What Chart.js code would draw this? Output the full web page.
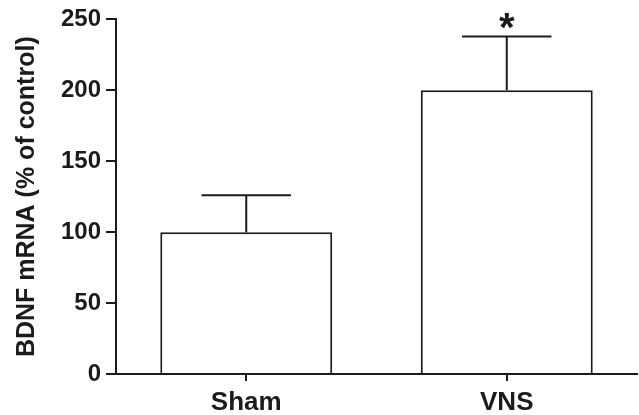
<!DOCTYPE html>
<html>
<head>
<meta charset="utf-8">
<script src="https://cdn.jsdelivr.net/npm/chart.js@4/dist/chart.umd.min.js"></script>
<style>
  html, body { margin: 0; padding: 0; background: #ffffff; }
  #wrap { width: 639px; height: 415px; }
</style>
</head>
<body>
<div id="wrap"><canvas id="c" width="639" height="415"></canvas></div>
<script>
// Groups and measured BDNF expression (% of control)
const groups = ['Sham', 'VNS'];
const means = [100, 200];
const sem = [26, 38];
const significance = ['', '*'];
const yTicks = [0, 50, 100, 150, 200, 250];

const ink = '#1b1b1b';
const fontFamily = '"Liberation Sans", Arial, sans-serif';

// Draws the upper error whisker with cap, plus significance marks
const errorBarPlugin = {
  id: 'errorBars',
  afterDatasetsDraw(chart) {
    const { ctx, scales } = chart;
    const meta = chart.getDatasetMeta(0);
    ctx.save();
    ctx.strokeStyle = ink;
    ctx.lineWidth = 2;
    meta.data.forEach((bar, i) => {
      const x = bar.x;
      const yTop = scales.y.getPixelForValue(means[i]);
      const yErr = scales.y.getPixelForValue(means[i] + sem[i]);
      const half = bar.width * 0.26;
      ctx.beginPath();
      ctx.moveTo(x, yTop);
      ctx.lineTo(x, yErr);
      ctx.moveTo(x - half, yErr);
      ctx.lineTo(x + half, yErr);
      ctx.stroke();
      if (significance[i]) {
        ctx.fillStyle = ink;
        ctx.font = 'bold 40px ' + fontFamily;
        ctx.textAlign = 'center';
        ctx.textBaseline = 'alphabetic';
        ctx.fillText(significance[i], x, yErr + 5);
      }
    });
    ctx.restore();
  }
};

new Chart(document.getElementById('c'), {
  type: 'bar',
  data: {
    labels: groups,
    datasets: [{
      data: means,
      backgroundColor: '#ffffff',
      borderColor: ink,
      borderWidth: 2,
      borderSkipped: 'bottom',
      categoryPercentage: 1,
      barPercentage: 0.66
    }]
  },
  options: {
    responsive: false,
    animation: false,
    events: [],
    layout: { padding: { top: 19, right: 2, left: 0, bottom: 0 } },
    plugins: {
      legend: { display: false },
      tooltip: { enabled: false }
    },
    scales: {
      x: {
        grid: {
          drawOnChartArea: false,
          offset: false,
          drawTicks: true,
          tickLength: 7,
          color: ink,
          lineWidth: 2
        },
        border: { display: true, color: ink, width: 2 },
        ticks: {
          color: ink,
          padding: 6,
          font: { family: fontFamily, size: 26, weight: 'bold' }
        },
        afterFit(scale) { scale.height = 41; }
      },
      y: {
        min: 0,
        max: 250,
        afterBuildTicks(scale) {
          scale.ticks = yTicks.map(v => ({ value: v }));
        },
        grid: {
          drawOnChartArea: false,
          drawTicks: true,
          tickLength: 10,
          color: ink,
          lineWidth: 2
        },
        border: { display: true, color: ink, width: 2 },
        ticks: {
          color: ink,
          padding: 5,
          font: { family: fontFamily, size: 24, weight: 'bold' }
        },
        title: {
          display: true,
          text: 'BDNF mRNA (% of control)',
          color: ink,
          padding: { top: 12, bottom: 0 },
          font: { family: fontFamily, size: 25, weight: 'bold' }
        },
        afterFit(scale) { scale.width = 116; }
      }
    }
  },
  plugins: [errorBarPlugin]
});
</script>
</body>
</html>
